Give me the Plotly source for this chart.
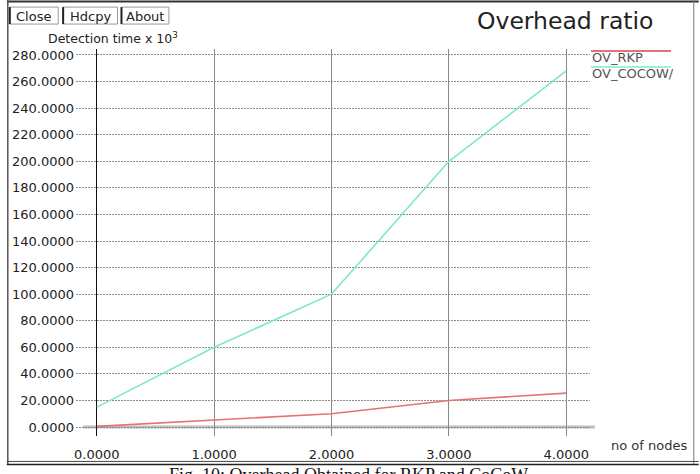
import plotly.graph_objects as go

# ---- data ----
nodes = [0, 1, 2, 3, 4]
ov_rkp = [0.5, 5, 10, 20, 25.5]
ov_cocow = [15, 60, 100, 200, 268]
x_ticks = [0, 1, 2, 3, 4]
y_ticks = list(range(0, 281, 20))
series_names = ["OV_RKP", "OV_COCOW"]

W, H = 700, 474
L, R, T, B = 70, 110, 49, 37
PW, PH = W - L - R, H - T - B


def px(x):
    return (x - L) / PW


def py(y):
    return (H - B - y) / PH


FONT = "DejaVu Sans"

fig = go.Figure()
fig.add_trace(go.Scatter(x=nodes, y=ov_rkp, mode="lines", name=series_names[0],
                         line=dict(color="#e57373", width=1.6)))
fig.add_trace(go.Scatter(x=nodes, y=ov_cocow, mode="lines", name=series_names[1],
                         line=dict(color="#7ee8c8", width=1.6)))

shapes = []
# x-axis base line (thick gray) at y=0
shapes.append(dict(type="line", xref="paper", yref="y", x0=px(77), x1=px(595), y0=0, y1=0,
                   line=dict(color="#c0c0c0", width=3), layer="below"))
# legend lines
shapes.append(dict(type="line", xref="paper", yref="paper", x0=px(591), x1=px(672), y0=py(51), y1=py(51),
                   line=dict(color="#e57373", width=2)))
shapes.append(dict(type="line", xref="paper", yref="paper", x0=px(591), x1=px(672), y0=py(67), y1=py(67),
                   line=dict(color="#9ff0d8", width=2)))
# window frame
shapes.append(dict(type="line", xref="paper", yref="paper", x0=px(0), x1=px(700), y0=py(1.5), y1=py(1.5),
                   line=dict(color="#333", width=2)))
shapes.append(dict(type="line", xref="paper", yref="paper", x0=px(1), x1=px(1), y0=py(0), y1=py(465),
                   line=dict(color="#555", width=1.5)))
shapes.append(dict(type="line", xref="paper", yref="paper", x0=px(695), x1=px(695), y0=py(0), y1=py(465),
                   line=dict(color="#777", width=1)))
shapes.append(dict(type="line", xref="paper", yref="paper", x0=px(0), x1=px(700), y0=py(462.5), y1=py(462.5),
                   line=dict(color="#444", width=1)))
shapes.append(dict(type="line", xref="paper", yref="paper", x0=px(0), x1=px(700), y0=py(465.5), y1=py(465.5),
                   line=dict(color="#222", width=1.5)))
# buttons
for (x0, x1) in [(3, 52), (57, 112), (116, 164)]:
    shapes.append(dict(type="rect", xref="paper", yref="paper", x0=px(x0), x1=px(x1), y0=py(7), y1=py(24),
                       line=dict(color="#999", width=1), fillcolor="rgba(0,0,0,0)"))
    shapes.append(dict(type="line", xref="paper", yref="paper", x0=px(x0), x1=px(x0), y0=py(7), y1=py(24),
                       line=dict(color="#222", width=2)))

annotations = []


def ann(text, x, y, size, xanchor="left", yanchor="middle", color="#222", family=FONT):
    annotations.append(dict(text=text, x=px(x), y=py(y), xref="paper", yref="paper", showarrow=False,
                            xanchor=xanchor, yanchor=yanchor, font=dict(family=family, size=size, color=color)))


ann("Overhead ratio", 565, 21, 23.5, xanchor="center")
ann("Detection time x 10<sup>3</sup>", 40, 38, 12.5)
ann("no of nodes", 609, 447, 13, color="#333")
ann(series_names[0], 590, 58, 13, color="#555")
ann(series_names[1] + "/", 590, 74, 13, color="#555")
ann("Close", 27.5, 16, 13, xanchor="center")
ann("Hdcpy", 84.5, 16, 13, xanchor="center")
ann("About", 140, 16, 13, xanchor="center")
ann("Fig. 10: Overhead Obtained for RKP and CoCoW", 346, 464, 18, xanchor="center", yanchor="top",
    family="Liberation Serif", color="#111")

fig.update_layout(
    width=W, height=H,
    margin=dict(l=L, r=R, t=T, b=B),
    paper_bgcolor="white", plot_bgcolor="white",
    showlegend=False,
    shapes=shapes,
    annotations=annotations,
    xaxis=dict(range=[-21 / 118.75, 4 + 24 / 118.75], tickvals=x_ticks, tickformat=".4f",
               showgrid=True, gridcolor="#888", gridwidth=1,
               zeroline=True, zerolinecolor="#111", zerolinewidth=1,
               showline=False, ticks="", ticklabelstandoff=9,
               tickfont=dict(family=FONT, size=13, color="#222")),
    yaxis=dict(range=[-9 / 1.3321, 280 + 6 / 1.3321], tickvals=y_ticks, tickformat=".4f",
               showgrid=True, gridcolor="#8a8a8a", gridwidth=1, griddash="2px,1px",
               zeroline=False, showline=False, ticks="", ticklabelstandoff=1,
               tickfont=dict(family=FONT, size=13, color="#222")),
)

fig.write_html("out.html")
